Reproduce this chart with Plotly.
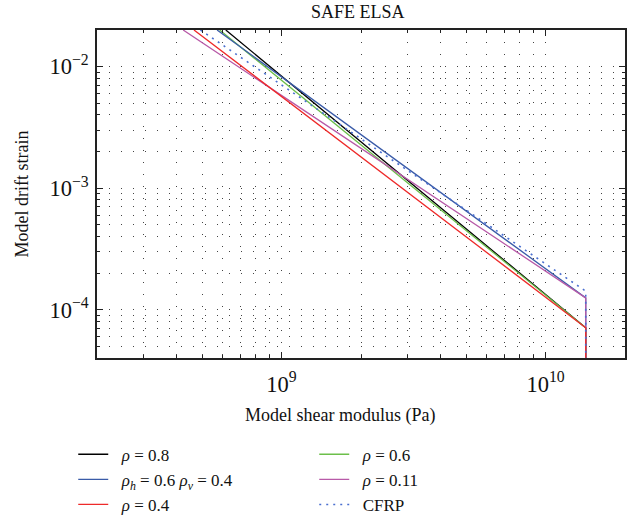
import plotly.graph_objects as go

# Series data (shear modulus in Pa, drift strain)
x_rho08 = [6.15e8, 1.42e10, 1.42e10]
y_rho08 = [0.02, 7.1e-5, 1e-6]
x_rhohv = [5.70e8, 1.42e10, 1.42e10]
y_rhohv = [0.02, 1.25e-4, 1e-6]
x_rho04 = [4.66e8, 1.42e10, 1.42e10]
y_rho04 = [0.02, 7.1e-5, 1e-6]
x_rho06 = [5.83e8, 1.42e10, 1.42e10]
y_rho06 = [0.02, 7.1e-5, 1e-6]
x_rho011 = [4.24e8, 1.42e10, 1.42e10]
y_rho011 = [0.02, 1.25e-4, 1e-6]
x_cfrp = [4.93e8, 1.42e10, 1.42e10]
y_cfrp = [0.02, 1.42e-4, 1e-6]

SP = "\u00a0\u00a0"
names = {
    "rho08": SP + "<i>ρ</i> = 0.8",
    "rho06": SP + "<i>ρ</i> = 0.6",
    "rhohv": SP + "<i>ρ<sub>h</sub></i> = 0.6 <i>ρ<sub>v</sub></i> = 0.4",
    "rho011": SP + "<i>ρ</i> = 0.11",
    "rho04": SP + "<i>ρ</i> = 0.4",
    "cfrp": SP + "CFRP",
}

FONT = "Liberation Serif"
fig = go.Figure()

def add(x, y, name, color, dash="solid", width=1.3):
    fig.add_trace(go.Scatter(x=x, y=y, mode="lines", name=name,
                             line=dict(color=color, width=width, dash=dash)))

# order chosen so the horizontal legend fills two columns row by row
add(x_rho08, y_rho08, names["rho08"], "#000000")
add(x_rho06, y_rho06, names["rho06"], "#6cbf4a")
add(x_rhohv, y_rhohv, names["rhohv"], "#3a5ba8")
add(x_rho011, y_rho011, names["rho011"], "#b85aa8")
add(x_rho04, y_rho04, names["rho04"], "#ee2a2a")
add(x_cfrp, y_cfrp, names["cfrp"], "#4a6fd0", dash="2px,5px", width=1.6)

axis_common = dict(
    type="log",
    showline=True, linecolor="#222222", linewidth=1.5, mirror="allticks",
    ticks="inside", ticklen=6, tickcolor="#222222",
    showgrid=True, gridcolor="#444444", gridwidth=1, griddash="1px,11px",
    zeroline=False, dtick=1, exponentformat="power",
    tickfont=dict(family=FONT, size=18, color="#111111"),
    minor=dict(ticks="inside", ticklen=3, tickcolor="#222222", dtick="D1",
               showgrid=True, gridcolor="#444444", gridwidth=1, griddash="1px,11px"),
)

fig.update_layout(
    width=636, height=521,
    margin=dict(l=97, r=11, t=30, b=163, autoexpand=False),
    paper_bgcolor="white", plot_bgcolor="white",
    font=dict(family=FONT, size=16, color="#111111"),
    title=dict(text="SAFE ELSA", x=0.5625, xanchor="center", y=0.977, yanchor="middle",
               font=dict(family=FONT, size=18, color="#111111")),
    xaxis=dict(axis_common, range=[8.30103, 10.30103], ticklabelstandoff=6),
    yaxis=dict(axis_common, range=[-4.39794, -1.69897], ticklabelstandoff=3,
               title=dict(text="Model drift strain", standoff=16,
                          font=dict(family=FONT, size=18, color="#111111"))),
    showlegend=True,
    legend=dict(orientation="h", x=-0.045, xanchor="left", y=-0.24, yanchor="top",
                entrywidth=196, entrywidthmode="pixels",
                font=dict(family=FONT, size=17, color="#111111"),
                bgcolor="rgba(0,0,0,0)"),
    annotations=[dict(text="Model shear modulus (Pa)", xref="paper", yref="paper",
                      x=0.46, y=-0.175, xanchor="center", yanchor="middle",
                      showarrow=False, font=dict(family=FONT, size=18, color="#111111"))],
)

fig.write_html("out.html")
